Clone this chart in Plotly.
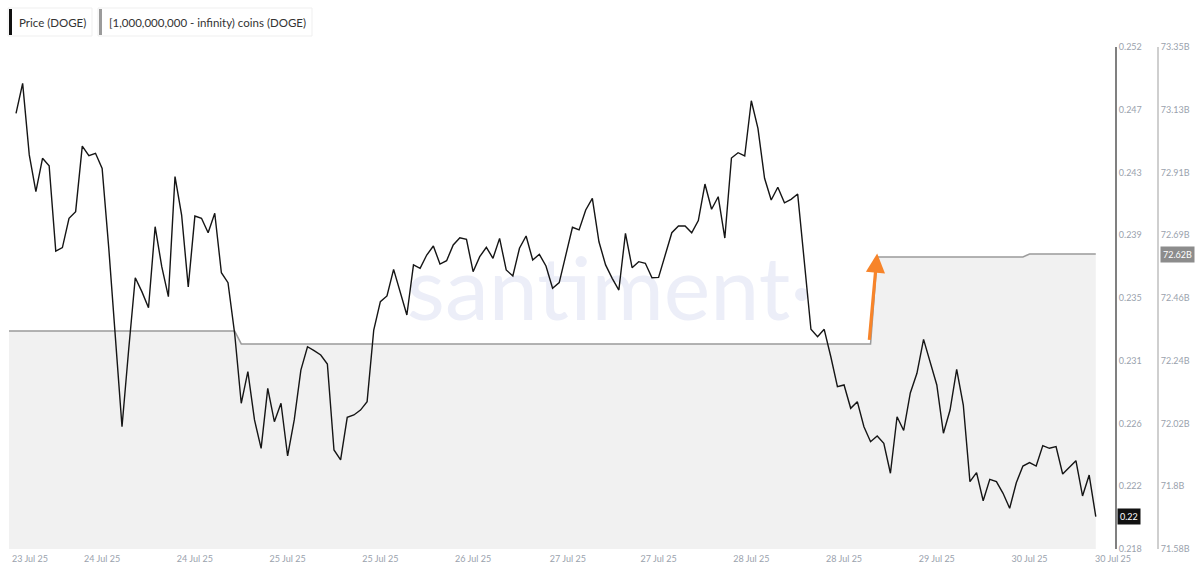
import plotly.graph_objects as go

# ---------------- data ----------------
price = [
    0.24751, 0.24954, 0.24469, 0.24220, 0.24446, 0.24396, 0.23818, 0.23841, 0.24040, 0.24085,
    0.24529, 0.24464, 0.24480, 0.24378, 0.23839, 0.23202, 0.22628, 0.23148, 0.23637, 0.23543,
    0.23434, 0.23983, 0.23712, 0.23509, 0.24322, 0.24062, 0.23575, 0.24055, 0.24040, 0.23942,
    0.24074, 0.23671, 0.23604, 0.23261, 0.22787, 0.23001, 0.22674, 0.22482, 0.22888, 0.22662,
    0.22787, 0.22430, 0.22674, 0.23012, 0.23170, 0.23143, 0.23114, 0.23053, 0.22471, 0.22403,
    0.22692, 0.22708, 0.22741, 0.22798, 0.23283, 0.23475, 0.23514, 0.23694, 0.23543, 0.23385,
    0.23724, 0.23701, 0.23791, 0.23852, 0.23730, 0.23753, 0.23859, 0.23908, 0.23898, 0.23678,
    0.23780, 0.23843, 0.23769, 0.23904, 0.23690, 0.23649, 0.23837, 0.23920, 0.23757, 0.23796,
    0.23717, 0.23566, 0.23604, 0.23791, 0.23979, 0.23961, 0.24096, 0.24175, 0.23881, 0.23724,
    0.23633, 0.23554, 0.23938, 0.23705, 0.23746, 0.23735, 0.23637, 0.23640, 0.23791, 0.23942,
    0.23988, 0.23988, 0.23942, 0.24024, 0.24272, 0.24101, 0.24186, 0.23906, 0.24448, 0.24484,
    0.24462, 0.24836, 0.24649, 0.24311, 0.24164, 0.24250, 0.24145, 0.24168, 0.24204, 0.23735,
    0.23288, 0.23238, 0.23288, 0.23102, 0.22899, 0.22911, 0.22753, 0.22798, 0.22628, 0.22527,
    0.22565, 0.22516, 0.22313, 0.22696, 0.22603, 0.22857, 0.22990, 0.23220, 0.23058, 0.22911,
    0.22584, 0.22741, 0.23017, 0.22775, 0.22256, 0.22317, 0.22127, 0.22272, 0.22256, 0.22177,
    0.22076, 0.22249, 0.22362, 0.22385, 0.22362, 0.22500, 0.22482, 0.22493, 0.22308, 0.22353,
    0.22398, 0.22159, 0.22301, 0.22019,
]
price_hours = list(range(len(price)))

# holdings of wallets with [1e9, inf) DOGE, in billions (change points of the step line)
coin_hours = [-2, 33, 34, 129, 130, 152, 153, 163]
coin_billions = [72.349, 72.349, 72.303, 72.303, 72.610, 72.610, 72.620, 72.620]

x_tick_hours = [2.1, 13, 27, 41, 55, 69, 83.3, 97, 111, 125, 139, 153, 165.6]
x_tick_labels = ["23 Jul 25", "24 Jul 25", "24 Jul 25", "25 Jul 25", "25 Jul 25", "26 Jul 25",
                 "27 Jul 25", "27 Jul 25", "28 Jul 25", "28 Jul 25", "29 Jul 25", "30 Jul 25",
                 "30 Jul 25"]

price_ticks = [0.218, 0.22225, 0.2265, 0.23075, 0.235, 0.23925, 0.2435, 0.24775, 0.252]
price_tick_labels = ["0.218", "0.222", "0.226", "0.231", "0.235", "0.239", "0.243", "0.247", "0.252"]
coin_ticks = [71.58, 71.80125, 72.0225, 72.24375, 72.465, 72.68625, 72.9075, 73.12875, 73.35]
coin_tick_labels = ["71.58B", "71.8B", "72.02B", "72.24B", "72.46B", "72.69B", "72.91B", "73.13B", "73.35B"]

# ---------------- layout helpers (pixel -> paper) ----------------
W, H = 1200, 569
ML, MR, MT, MB = 9, 42, 47, 20
PW, PH = W - ML - MR, H - MT - MB


def px(X):
    return (X - ML) / PW


def py(Y):
    return (H - MB - Y) / PH


TICK_FONT = dict(family="Lato, Open Sans, sans-serif", size=9, color="#9aa2ad")

fig = go.Figure()

fig.add_trace(go.Scatter(
    x=coin_hours, y=coin_billions, yaxis="y", mode="lines",
    line=dict(color="#9b9b9b", width=1.5), fill="tozeroy", fillcolor="#f1f1f1",
    hoverinfo="skip", showlegend=False,
))
fig.add_trace(go.Scatter(
    x=price_hours, y=price, yaxis="y2", mode="lines",
    line=dict(color="#151515", width=1.4),
    showlegend=False,
))

fig.update_layout(
    width=W, height=H,
    margin=dict(l=ML, r=MR, t=MT, b=MB, autoexpand=False),
    paper_bgcolor="white", plot_bgcolor="white",
    showlegend=False,
    xaxis=dict(
        domain=[0, (1115 - ML) / PW], range=[-1.06, 165.9],
        showgrid=False, zeroline=False, showline=False, ticks="",
        tickvals=x_tick_hours, ticktext=x_tick_labels, tickfont=TICK_FONT,
        ticklabelstandoff=3,
    ),
    yaxis=dict(
        range=[71.58, 73.35], side="right", anchor="free", position=1.0,
        showgrid=False, zeroline=False, showline=True, linecolor="#cfcfcf", linewidth=2,
        ticks="", tickvals=coin_ticks, ticktext=coin_tick_labels, tickfont=TICK_FONT,
    ),
    yaxis2=dict(
        range=[0.218, 0.252], side="right", anchor="x", overlaying="y",
        showgrid=False, zeroline=False, showline=True, linecolor="#808080", linewidth=2,
        ticks="", tickvals=price_ticks, ticktext=price_tick_labels, tickfont=TICK_FONT,
    ),
)

# watermark
fig.add_shape(
    type="rect", xref="paper", yref="paper",
    x0=px(400), x1=px(820), y0=py(330), y1=py(240),
    line=dict(width=0), fillcolor="rgba(0,0,0,0)", layer="below",
    label=dict(text="santiment·", font=dict(family="Lato, sans-serif", size=88, color="#eceef8"),
               textposition="middle center"),
)

# legend boxes
legend_items = [
    (8, 92, "#111111", "Price (DOGE)"),
    (98, 312, "#9b9b9b", "[1,000,000,000 - infinity) coins (DOGE)"),
]
for x0, x1, col, txt in legend_items:
    fig.add_shape(type="rect", xref="paper", yref="paper",
                  x0=px(x0), x1=px(x1), y0=py(36), y1=py(8),
                  line=dict(color="#efefef", width=1), fillcolor="white")
    fig.add_shape(type="rect", xref="paper", yref="paper",
                  x0=px(x0 + 1), x1=px(x0 + 4), y0=py(35), y1=py(9),
                  line=dict(width=0), fillcolor=col)
    fig.add_annotation(text=txt, xref="paper", yref="paper", x=px(x0 + 9), y=py(22),
                       xanchor="left", yanchor="middle", showarrow=False,
                       font=dict(family="Lato, Open Sans, sans-serif", size=11.5, color="#333333"))

# last-value tags on the axes
fig.add_annotation(text="0.22", xref="paper", yref="y2", x=px(1117), y=price[-1],
                   xanchor="left", yanchor="middle", showarrow=False,
                   bgcolor="#111111", borderpad=2,
                   font=dict(family="Lato, sans-serif", size=9, color="white"))
fig.add_annotation(text="72.62B", xref="paper", yref="y", x=px(1160), y=coin_billions[-1],
                   xanchor="left", yanchor="middle", showarrow=False,
                   bgcolor="#8c8c8c", borderpad=2,
                   font=dict(family="Lato, sans-serif", size=9, color="white"))

# orange arrow highlighting the jump in holdings
fig.add_annotation(x=coin_hours[4], y=coin_billions[4] + 0.012, xref="x", yref="y",
                   ax=-8, ay=88, axref="pixel", ayref="pixel", text="",
                   showarrow=True, arrowhead=2, arrowsize=1.2, arrowwidth=3.2,
                   arrowcolor="#f7842a")

fig.write_html(
    "out.html",
    config={"displayModeBar": False},
    post_script="document.body.style.margin='0';document.body.style.overflow='hidden';",
)
